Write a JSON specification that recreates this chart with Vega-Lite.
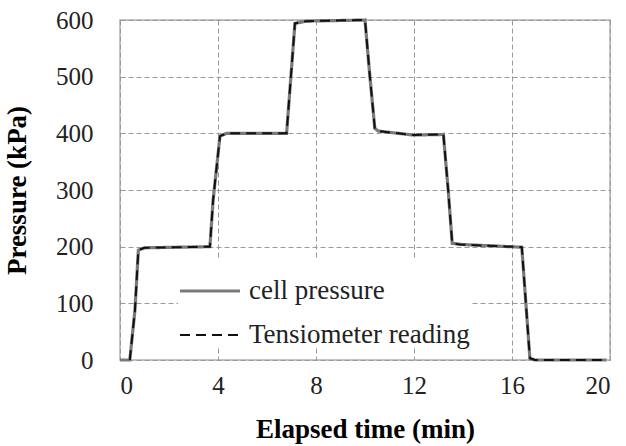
{
  "$schema": "https://vega.github.io/schema/vega-lite/v6.json",
  "autosize": "none",
  "width": 490,
  "height": 340,
  "padding": {"left": 120, "top": 20, "right": 16, "bottom": 86},
  "background": "white",
  "config": {
    "view": {"stroke": "#b0b0b0", "strokeWidth": 1.5},
    "font": "Liberation Serif"
  },
  "data": {
    "values": [
      {"s": "cell pressure", "t": 0, "p": 0}, {"s": "cell pressure", "t": 0.4, "p": 0}, {"s": "cell pressure", "t": 0.61, "p": 88}, {"s": "cell pressure", "t": 0.75, "p": 194}, {"s": "cell pressure", "t": 1.0, "p": 198},
      {"s": "cell pressure", "t": 3.67, "p": 200}, {"s": "cell pressure", "t": 3.8, "p": 282}, {"s": "cell pressure", "t": 4.08, "p": 395}, {"s": "cell pressure", "t": 4.35, "p": 400},
      {"s": "cell pressure", "t": 6.8, "p": 400}, {"s": "cell pressure", "t": 7.14, "p": 594}, {"s": "cell pressure", "t": 7.6, "p": 598}, {"s": "cell pressure", "t": 10.0, "p": 600},
      {"s": "cell pressure", "t": 10.2, "p": 500}, {"s": "cell pressure", "t": 10.4, "p": 409}, {"s": "cell pressure", "t": 10.54, "p": 404}, {"s": "cell pressure", "t": 11.97, "p": 397},
      {"s": "cell pressure", "t": 13.2, "p": 398}, {"s": "cell pressure", "t": 13.4, "p": 297}, {"s": "cell pressure", "t": 13.56, "p": 206}, {"s": "cell pressure", "t": 13.88, "p": 204},
      {"s": "cell pressure", "t": 16.4, "p": 199}, {"s": "cell pressure", "t": 16.73, "p": 3}, {"s": "cell pressure", "t": 16.94, "p": 0}, {"s": "cell pressure", "t": 19.86, "p": 0},
      {"s": "Tensiometer reading", "t": 0.4, "p": 0}, {"s": "Tensiometer reading", "t": 0.61, "p": 88}, {"s": "Tensiometer reading", "t": 0.75, "p": 194}, {"s": "Tensiometer reading", "t": 1.0, "p": 198},
      {"s": "Tensiometer reading", "t": 3.67, "p": 200}, {"s": "Tensiometer reading", "t": 3.8, "p": 282}, {"s": "Tensiometer reading", "t": 4.08, "p": 395}, {"s": "Tensiometer reading", "t": 4.35, "p": 400},
      {"s": "Tensiometer reading", "t": 6.8, "p": 400}, {"s": "Tensiometer reading", "t": 7.14, "p": 594}, {"s": "Tensiometer reading", "t": 7.6, "p": 598}, {"s": "Tensiometer reading", "t": 10.0, "p": 600},
      {"s": "Tensiometer reading", "t": 10.2, "p": 500}, {"s": "Tensiometer reading", "t": 10.4, "p": 409}, {"s": "Tensiometer reading", "t": 10.54, "p": 404}, {"s": "Tensiometer reading", "t": 11.97, "p": 397},
      {"s": "Tensiometer reading", "t": 13.2, "p": 398}, {"s": "Tensiometer reading", "t": 13.4, "p": 297}, {"s": "Tensiometer reading", "t": 13.56, "p": 206}, {"s": "Tensiometer reading", "t": 13.88, "p": 204},
      {"s": "Tensiometer reading", "t": 16.4, "p": 199}, {"s": "Tensiometer reading", "t": 16.73, "p": 3}, {"s": "Tensiometer reading", "t": 16.94, "p": 0}, {"s": "Tensiometer reading", "t": 19.86, "p": 0}
    ]
  },
  "mark": {"type": "line"},
  "encoding": {
    "x": {
      "field": "t", "type": "quantitative",
      "scale": {"domain": [0, 20], "nice": false},
      "axis": {
        "values": [0, 4, 8, 12, 16, 20],
        "title": "Elapsed time (min)",
        "titleFont": "Liberation Serif", "titleFontSize": 27, "titleFontWeight": "bold", "titleColor": "#000",
        "titlePadding": 18,
        "labelFont": "Liberation Serif", "labelFontSize": 25, "labelColor": "#222", "labelPadding": 13,
        "ticks": false, "domain": false,
        "grid": true, "gridColor": "#999", "gridDash": [5, 3], "gridWidth": 1
      }
    },
    "y": {
      "field": "p", "type": "quantitative",
      "scale": {"domain": [0, 600], "nice": false},
      "axis": {
        "values": [0, 100, 200, 300, 400, 500, 600],
        "title": "Pressure (kPa)",
        "titleFont": "Liberation Serif", "titleFontSize": 27, "titleFontWeight": "bold", "titleColor": "#000",
        "titlePadding": 24,
        "labelFont": "Liberation Serif", "labelFontSize": 25, "labelColor": "#222", "labelPadding": 27,
        "ticks": false, "domain": false,
        "grid": true, "gridColor": "#999", "gridDash": [5, 3], "gridWidth": 1
      }
    },
    "color": {
      "field": "s", "type": "nominal",
      "scale": {"domain": ["cell pressure", "Tensiometer reading"], "range": ["#7a7a7a", "#111111"]},
      "legend": {
        "title": null, "orient": "none", "legendX": 58, "legendY": 239,
        "fillColor": "white", "padding": 0,
        "symbolType": "stroke", "symbolSize": 3600, "symbolStrokeWidth": 2.5,
        "labelFont": "Liberation Serif", "labelFontSize": 27, "labelColor": "#222", "labelOffset": 7,
        "labelLimit": 400,
        "rowPadding": -23
      }
    },
    "strokeDash": {
      "field": "s", "type": "nominal",
      "scale": {"domain": ["cell pressure", "Tensiometer reading"], "range": [[1, 0], [10, 6]]},
      "legend": null
    },
    "strokeWidth": {
      "field": "s", "type": "nominal",
      "scale": {"domain": ["cell pressure", "Tensiometer reading"], "range": [3.2, 2]},
      "legend": null
    },
    "order": {"field": "t", "type": "quantitative"}
  }
}
